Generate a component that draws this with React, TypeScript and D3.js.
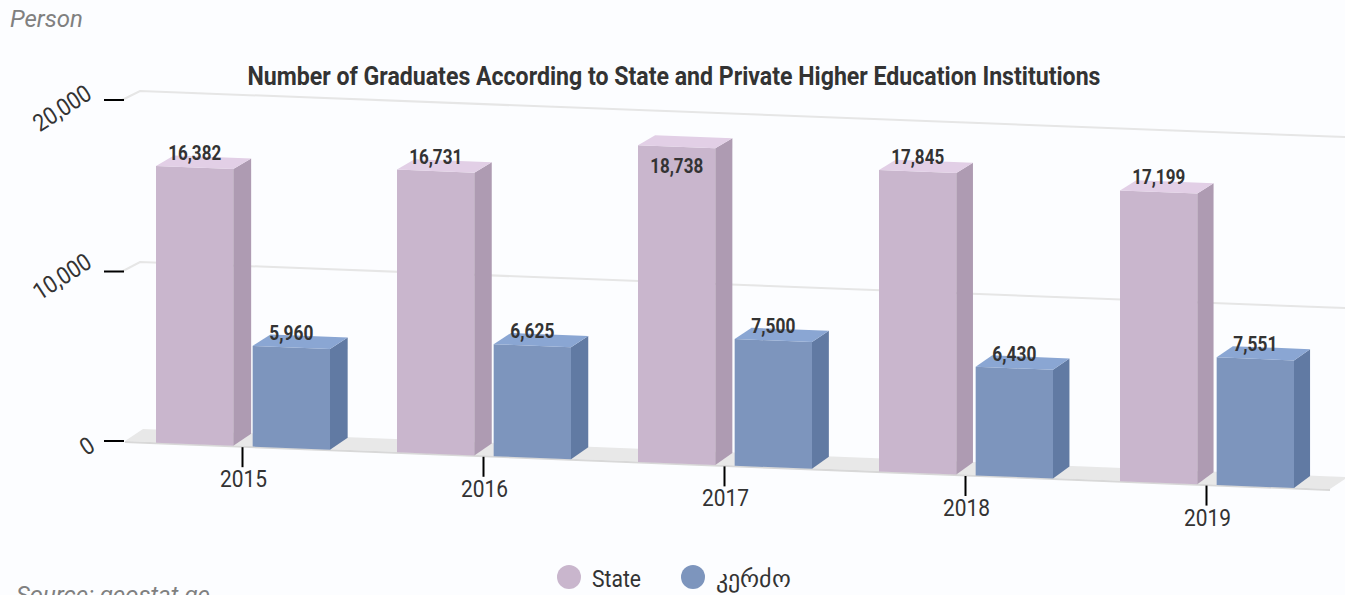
import React from 'react';
import * as d3 from 'd3';

const years = ['2015', '2016', '2017', '2018', '2019'];
const seriesNames = ['State', 'კერძო'];
const stateValues = [16382, 16731, 18738, 17845, 17199];
const privateValues = [5960, 6625, 7500, 6430, 7551];
const yTicks = [0, 10000, 20000];
const seriesColors = [
  { front: '#c9b6cd', top: '#e2cfe6', side: '#ae9bb2' },
  { front: '#7d95bd', top: '#8aa6d3', side: '#617aa3' },
];

const TEXT = '#333333';
const FONT = 'Roboto, sans-serif';
const BG = '#fcfdff';

// fake 3d: everything leans down to the right and depth goes up-right
const baseY = d3.scaleLinear().domain([125, 1330]).range([441.5, 489.5]);
const valueH = d3.scaleLinear().domain([0, 20000]).range([0, 338]);
const depthX = d3.scaleLinear().domain([125, 1330]).range([18, 16]);
const depthY = d3.scaleLinear().domain([0, 20000]).range([-12, -10]);
const tickY = d3.scaleLinear().domain([0, 10000, 20000]).range([441, 271.5, 100]);
const gridBackY = d3.scaleLinear().domain([0, 10000, 20000]).range([429, 262, 91]);

const xCat = d3.scaleBand<string>().domain(years).range([121, 1326]);
const xSeries = d3.scaleBand<string>().domain(seriesNames).range([35, 209]).paddingInner(0.2);

const fmt = d3.format(',');

function pt(x: number, v: number, back = false): [number, number] {
  const y = baseY(x) - valueH(v);
  return back ? [x + depthX(x), y + depthY(v)] : [x, y];
}

const poly = (pts: [number, number][]) => pts.map((p) => p.join(',')).join(' ');

function Bar({ year, name, value, colors }: any) {
  const x0 = xCat(year)! + xSeries(name)!;
  const x1 = x0 + xSeries.bandwidth();
  return (
    <g>
      <polygon points={poly([pt(x0, value), pt(x1, value), pt(x1, 0), pt(x0, 0)])} fill={colors.front} />
      <polygon points={poly([pt(x1, value), pt(x1, value, true), pt(x1, 0, true), pt(x1, 0)])} fill={colors.side} />
      <polygon points={poly([pt(x0, value), pt(x0, value, true), pt(x1, value, true), pt(x1, value)])} fill={colors.top} />
    </g>
  );
}

function BarLabel({ year, name, value }: any) {
  const x0 = xCat(year)! + xSeries(name)!;
  const cx = x0 + xSeries.bandwidth() / 2;
  const top = pt(x0, value)[1];
  // the tallest bar's label gets pushed inside the bar
  const y = top < 150 ? top + 21 : top - 13;
  return (
    <text x={cx} y={y} dy="0.35em" textAnchor="middle" fontSize={20} fontWeight={700} fill={TEXT}
      textLength={fmt(value).length === 6 ? 53 : 44} lengthAdjust="spacingAndGlyphs">
      {fmt(value)}
    </text>
  );
}

export default function App() {
  const floor: [number, number][] = [[125, 441], [1330, 489], [1348, 477], [143, 429]];
  const values = [stateValues, privateValues];

  return (
    <svg width={1345} height={595} style={{ position: 'absolute', left: 0, top: 0, background: BG, fontFamily: FONT }}>
      <text x={10} y={27} fontSize={24} fontStyle="italic" fill="#808080">Person</text>
      <text x={674} y={85} textAnchor="middle" fontSize={26} fontWeight={700} fill={TEXT}
        textLength={853} lengthAdjust="spacingAndGlyphs">
        Number of Graduates According to State and Private Higher Education Institutions
      </text>

      {/* floor */}
      <polygon points={poly(floor)} fill="#e8e8e8" />
      <line x1={125} y1={442} x2={1330} y2={490} stroke="#d8d8d8" strokeWidth={2} />

      {/* grid lines on the back wall */}
      {yTicks.filter((t) => t > 0).map((t) => {
        const yBack = gridBackY(t);
        return (
          <polyline key={t} fill="none" stroke="#e6e6e6" strokeWidth={2}
            points={poly([[122, tickY(t)], [140, yBack], [1345, yBack + 46]])} />
        );
      })}

      {/* y axis */}
      {yTicks.map((t) => {
        const y = tickY(t);
        const x = t === 0 ? 87 : 62;
        const ly = t === 20000 ? y + 8 : y + 5;
        return (
          <g key={t}>
            <line x1={104} y1={y} x2={124} y2={y} stroke="#000" strokeWidth={2} />
            <text x={x} y={ly} dy="0.35em" textAnchor="middle" fontSize={24} fill={TEXT}
              transform={`rotate(-33 ${x} ${ly})`}
              textLength={t === 0 ? 12 : 64} lengthAdjust="spacingAndGlyphs">
              {fmt(t)}
            </text>
          </g>
        );
      })}

      {/* x axis */}
      {years.map((yr) => {
        const x = xCat(yr)! + xCat.bandwidth() / 2 + 1;
        const y = baseY(x) + 1;
        return (
          <g key={yr}>
            <line x1={x} y1={y} x2={x} y2={y + 20} stroke="#000" strokeWidth={2} />
            <text x={x + 1} y={y + 40} textAnchor="middle" fontSize={24} fill={TEXT}
              textLength={47} lengthAdjust="spacingAndGlyphs">{yr}</text>
          </g>
        );
      })}

      {/* bars */}
      {years.map((yr, i) => seriesNames.map((s, j) => (
        <Bar key={yr + s} year={yr} name={s} value={values[j][i]} colors={seriesColors[j]} />
      )))}
      {years.map((yr, i) => seriesNames.map((s, j) => (
        <BarLabel key={yr + s} year={yr} name={s} value={values[j][i]} />
      )))}

      {/* legend */}
      <circle cx={569} cy={577} r={12} fill={seriesColors[0].front} />
      <text x={592} y={587} fontSize={23.5} fill={TEXT} textLength={49} lengthAdjust="spacingAndGlyphs">{seriesNames[0]}</text>
      <circle cx={693} cy={577} r={12} fill={seriesColors[1].front} />
      <text x={716} y={587} fontSize={23.5} fill={TEXT} textLength={75} lengthAdjust="spacingAndGlyphs">{seriesNames[1]}</text>

      <text x={16} y={603} fontSize={24} fontStyle="italic" fill="#808080">Source: geostat.ge</text>
    </svg>
  );
}
